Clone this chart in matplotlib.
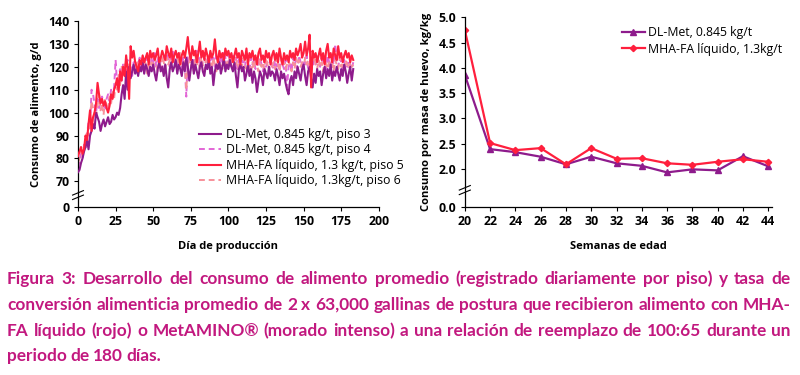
import matplotlib
matplotlib.use("Agg")
import matplotlib.pyplot as plt
import numpy as np

# daily feed intake, g/d (days 0..183)
piso3 = [74, 75, 78, 80, 83, 85, 88, 84, 90, 92,
         95, 93, 100, 98, 96, 92, 95, 97, 94, 96,
         98, 95, 96, 99, 97, 98, 100, 99, 102, 108,
         112, 106, 118, 110, 120, 115, 118, 121, 117, 119,
         116, 120, 118, 122, 117, 121, 119, 116, 120, 118,
         121, 117, 114, 119, 122, 118, 120, 116, 121, 115,
         111, 119, 122, 118, 120, 123, 117, 121, 119, 116,
         122, 118, 124, 120, 114, 119, 123, 117, 121, 118,
         115, 120, 122, 118, 116, 121, 119, 123, 117, 120,
         112, 118, 121, 119, 122, 117, 120, 124, 118, 121,
         119, 123, 120, 118, 122, 116, 111, 119, 121, 118,
         120, 114, 117, 121, 116, 119, 113, 118, 115, 109,
         114, 118, 116, 112, 119, 117, 115, 120, 116, 118,
         117, 114, 119, 116, 112, 118, 115, 117, 113, 110,
         108, 114, 116, 112, 118, 115, 120, 117, 114, 119,
         121, 116, 112, 118, 120, 115, 111, 117, 113, 119,
         116, 118, 112, 117, 120, 115, 119, 116, 121, 114,
         118, 116, 120, 117, 114, 119, 116, 121, 118, 113,
         117, 120, 114, 119]
piso4 = [76, 79, 82, 80, 86, 84, 90, 96, 93, 110,
         108, 104, 100, 106, 102, 105, 107, 104, 101, 106,
         108, 105, 110, 107, 111, 123, 112, 116, 119, 114,
         121, 117, 119, 123, 118, 120, 116, 122, 119, 117,
         121, 124, 120, 118, 123, 121, 126, 122, 119, 124,
         122, 126, 120, 123, 125, 121, 119, 124, 122, 126,
         123, 120, 125, 127, 122, 124, 121, 126, 123, 119,
         124, 121, 107, 125, 122, 126, 120, 124, 122, 127,
         121, 124, 119, 123, 126, 122, 124, 120, 125, 122,
         124, 120, 126, 123, 121, 125, 122, 127, 124, 121,
         125, 123, 120, 126, 122, 124, 119, 123, 125, 121,
         123, 120, 125, 122, 118, 124, 121, 123, 119, 122,
         120, 124, 121, 118, 123, 120, 122, 119, 124, 121,
         119, 123, 120, 122, 118, 124, 121, 119, 123, 111,
         120, 122, 118, 124, 121, 123, 119, 125, 122, 120,
         123, 121, 125, 119, 122, 124, 120, 123, 121, 125,
         122, 120, 124, 121, 123, 119, 125, 122, 120, 124,
         121, 130, 123, 120, 124, 122, 119, 123, 121, 120,
         123, 121, 119, 122]
piso5 = [81, 83, 85, 82, 84, 90, 88, 95, 101, 92,
         98, 100, 104, 113, 108, 104, 106, 103, 105, 102,
         100, 103, 108, 106, 110, 112, 115, 109, 118, 114,
         120, 116, 125, 119, 106, 129, 124, 127, 122, 120,
         118, 123, 121, 125, 122, 124, 126, 121, 127, 124,
         126, 123, 125, 128, 122, 124, 127, 125, 123, 129,
         126, 124, 128, 122, 125, 127, 124, 126, 121, 125,
         127, 124, 128, 133, 126, 123, 129, 125, 127, 122,
         126, 131, 124, 127, 123, 128, 125, 122, 127, 124,
         126, 132, 125, 122, 127, 124, 126, 123, 128, 125,
         127, 124, 126, 122, 125, 128, 124, 126, 121, 127,
         125, 123, 128, 121, 126, 124, 127, 123, 125, 121,
         126, 128, 123, 125, 122, 127, 124, 126, 121, 125,
         127, 123, 126, 122, 128, 124, 121, 126, 123, 125,
         122, 127, 124, 126, 123, 128, 125, 127, 130, 124,
         126, 131, 125, 128, 134, 111, 127, 124, 126, 122,
         125, 128, 123, 126, 121, 127, 130, 124, 126, 122,
         128, 125, 123, 129, 124, 126, 122, 125, 127, 124,
         126, 122, 125, 123]
piso6 = [78, 80, 84, 81, 85, 87, 92, 90, 98, 105,
         102, 100, 97, 103, 108, 101, 104, 99, 106, 103,
         101, 107, 104, 109, 106, 113, 110, 117, 112, 120,
         116, 121, 114, 118, 122, 119, 117, 121, 118, 123,
         120, 118, 122, 119, 124, 121, 117, 123, 120, 122,
         119, 124, 121, 118, 123, 120, 125, 122, 119, 124,
         121, 123, 119, 125, 122, 120, 124, 121, 126, 122,
         119, 123, 110, 121, 124, 120, 122, 118, 125, 121,
         123, 119, 124, 121, 118, 123, 120, 125, 122, 119,
         124, 121, 118, 123, 120, 122, 119, 124, 121, 123,
         120, 125, 122, 119, 124, 121, 123, 118, 122, 120,
         124, 121, 119, 123, 120, 117, 122, 119, 124, 121,
         118, 123, 120, 122, 119, 124, 121, 118, 123, 120,
         122, 119, 124, 121, 118, 123, 120, 122, 119, 121,
         123, 120, 118, 122, 119, 124, 121, 123, 120, 122,
         119, 124, 121, 123, 120, 118, 122, 125, 121, 119,
         123, 120, 122, 118, 124, 121, 119, 123, 120, 122,
         118, 123, 121, 119, 124, 120, 122, 118, 123, 121,
         119, 122, 120, 121]
days = np.arange(len(piso3))

# feed conversion, kg/kg
weeks = [20, 22, 24, 26, 28, 30, 32, 34, 36, 38, 40, 42, 44]
fcr_dlmet = [3.86, 2.39, 2.33, 2.24, 2.09, 2.24, 2.11, 2.06, 1.93, 1.99, 1.97, 2.25, 2.05]
fcr_mha = [4.75, 2.51, 2.37, 2.41, 2.09, 2.41, 2.20, 2.21, 2.11, 2.08, 2.14, 2.19, 2.14]

purple = "#8e1b8c"
red = "#ff1f3d"
magenta = "#e266d6"
pink = "#f7909a"
capcol = "#c2187f"

plt.rcParams['font.family'] = ['Open Sans', 'DejaVu Sans']

fig = plt.figure(figsize=(8, 3.75), dpi=100)

def breakmark(ax, yfrac):
    for dy in (-0.012, 0.012):
        ax.plot([-0.018, 0.018], [yfrac + dy - 0.012, yfrac + dy + 0.012],
                transform=ax.transAxes, color="black", lw=0.8, clip_on=False)

def style(ax):
    for s in ("top", "right"):
        ax.spines[s].set_visible(False)
    for s in ("left", "bottom"):
        ax.spines[s].set_linewidth(0.9)
    ax.tick_params(length=3, width=0.8, labelsize=8.8, pad=3)
    for lab in ax.get_xticklabels() + ax.get_yticklabels():
        lab.set_fontweight("bold")

# left panel: broken axis, 0 drawn just below 70
zero_pos = 58.8
ax1 = fig.add_axes([0.0975, 0.448, 0.376, 0.496])
ax1.plot(days, piso3, color=purple, lw=1.5, zorder=3, label="DL-Met, 0.845 kg/t, piso 3")
ax1.plot(days, piso4, color=magenta, lw=1.4, ls=(0, (3, 2)), zorder=2, label="DL-Met, 0.845 kg/t, piso 4")
ax1.plot(days, piso5, color=red, lw=1.5, zorder=4, label="MHA-FA líquido, 1.3 kg/t, piso 5")
ax1.plot(days, piso6, color=pink, lw=1.4, ls=(0, (3, 2)), zorder=2, label="MHA-FA líquido, 1.3kg/t, piso 6")
ax1.set_xlim(0, 200)
ax1.set_ylim(zero_pos, 140)
ax1.set_xticks(range(0, 201, 25))
ax1.set_yticks([zero_pos] + list(range(70, 141, 10)))
ax1.set_yticklabels(["0"] + [str(v) for v in range(70, 141, 10)])
style(ax1)
breakmark(ax1, (64 - zero_pos) / (140 - zero_pos))
ax1.set_xlabel("Día de producción", fontsize=8, fontweight="bold", labelpad=9)
ax1.set_ylabel("Consumo de alimento, g/d", fontsize=8, fontweight="bold", labelpad=5)
ax1.legend(loc="lower left", bbox_to_anchor=(0.385, 0.08), frameon=False, fontsize=8.8,
           handlelength=1.8, handletextpad=0.45, labelspacing=0.2, borderaxespad=0)

# right panel
fzero = 1.245
ax2 = fig.add_axes([0.581, 0.448, 0.384, 0.506])
ax2.plot(weeks, fcr_dlmet, color=purple, lw=1.6, marker="^", ms=4.5, label="DL-Met, 0.845 kg/t")
ax2.plot(weeks, fcr_mha, color=red, lw=1.6, marker="D", ms=3.2, label="MHA-FA líquido, 1.3kg/t")
ax2.set_xlim(20, 44.3)
ax2.set_ylim(fzero, 5.0)
ax2.set_xticks(weeks)
ax2.set_yticks([fzero, 2.0, 2.5, 3.0, 3.5, 4.0, 4.5, 5.0])
ax2.set_yticklabels(["0.0", "2.0", "2.5", "3.0", "3.5", "4.0", "4.5", "5.0"])
style(ax2)
breakmark(ax2, (1.58 - fzero) / (5.0 - fzero))
ax2.set_xlabel("Semanas de edad", fontsize=8, fontweight="bold", labelpad=9)
ax2.set_ylabel("Consumo por masa de huevo, kg/kg", fontsize=8, fontweight="bold", labelpad=5)
ax2.legend(loc="upper left", bbox_to_anchor=(0.495, 0.98), frameon=False, fontsize=8.8,
           handlelength=1.9, handletextpad=0.25, labelspacing=0.3, borderaxespad=0)

# caption, justified by hand
caption = [
    "Figura 3: Desarrollo del consumo de alimento promedio (registrado diariamente por piso) y tasa de",
    "conversión alimenticia promedio de 2 x 63,000 gallinas de postura que recibieron alimento con MHA-",
    "FA líquido (rojo) o MetAMINO® (morado intenso) a una relación de reemplazo de 100:65 durante un",
    "periodo de 180 días.",
]
cap_y = [279, 305, 331, 356]
x0, x1 = 7, 791
renderer = fig.canvas.get_renderer()
for i, (line, yp) in enumerate(zip(caption, cap_y)):
    words = line.split(" ")
    texts = [fig.text(0, 1 - yp / 375, w, fontsize=12.4, fontweight="bold", color=capcol,
                      family=["Lato", "DejaVu Sans"], va="center", ha="left") for w in words]
    widths = [t.get_window_extent(renderer).width for t in texts]
    gap = (x1 - x0 - sum(widths)) / (len(words) - 1)
    if i == len(caption) - 1:
        gap = 3.5
    x = x0
    for t, w in zip(texts, widths):
        t.set_x(x / 800)
        x += w + gap

fig.savefig("out.png", dpi=100)
